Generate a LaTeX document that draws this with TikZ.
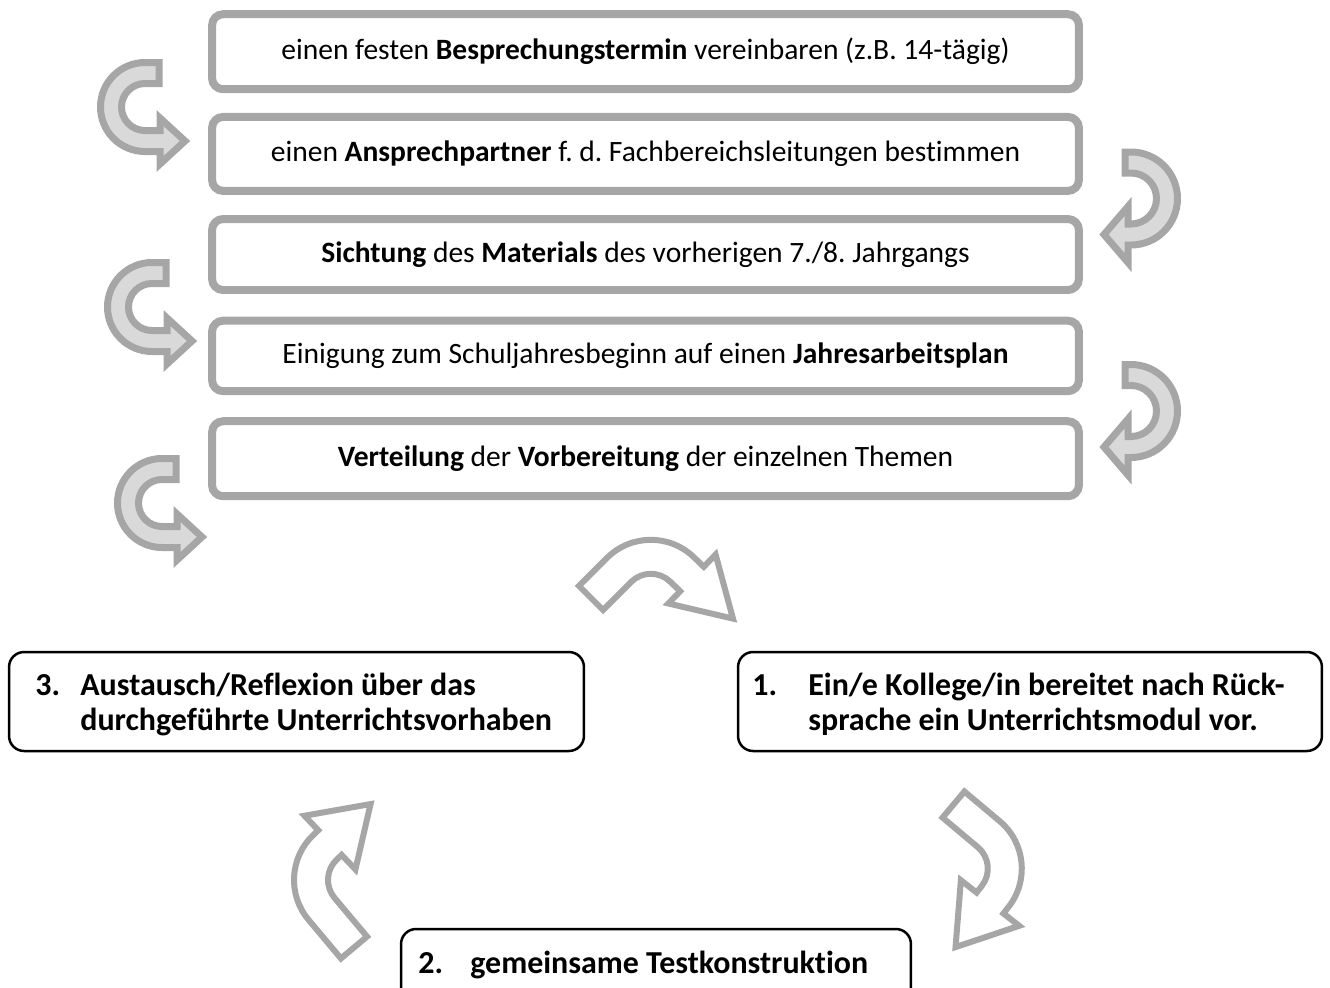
\documentclass[tikz,border=0pt]{standalone}
\usepackage{fontspec}
\setmainfont{Carlito}[Ligatures=NoCommon]
\usetikzlibrary{calc,positioning}
\definecolor{arrowgray}{HTML}{A6A6A6}
\definecolor{arrowfill}{HTML}{D9D9D9}
\frenchspacing

% bent block arrow: #1 style, #2 centre of the bend, #3 radius/half band/half head/head length/start angle/end angle/tail/straight end
\newcommand{\bentarrow}[3]{%
  \foreach \arcr/\bw/\hw/\hl/\sa/\ea/\tin/\tout in {#3}{
    \pgfmathsetmacro{\dir}{(\ea>\sa)?1:-1}
    \pgfmathsetmacro{\hback}{\sa+90*\dir+180}
    \pgfmathsetmacro{\hend}{\ea+90*\dir}
    \pgfmathsetmacro{\rout}{\arcr+\bw}
    \pgfmathsetmacro{\rin}{\arcr-\bw}
    \pgfmathsetmacro{\rhout}{\arcr+\hw}
    \pgfmathsetmacro{\rhin}{\arcr-\hw}
    \pgfmathsetmacro{\tip}{\tout+\hl}
    \draw[#1,shift={(#2)}] ($(\sa:\rout)+(\hback:\tin)$) -- (\sa:\rout)
      arc[start angle=\sa, end angle=\ea, radius=\rout]
      -- ($(\ea:\rout)+(\hend:\tout)$) -- ($(\ea:\rhout)+(\hend:\tout)$)
      -- ($(\ea:\arcr)+(\hend:\tip)$)
      -- ($(\ea:\rhin)+(\hend:\tout)$) -- ($(\ea:\rin)+(\hend:\tout)$)
      -- (\ea:\rin) arc[start angle=\ea, end angle=\sa, radius=\rin]
      -- ($(\sa:\rin)+(\hback:\tin)$) -- cycle;
  }}

\begin{document}
\begin{tikzpicture}[x=0.02cm,y=-0.02cm,
  planbox/.style={draw=arrowgray, line width=0.16cm, rounded corners=0.22cm,
    minimum width=17.34cm, inner sep=0pt, font=\fontsize{16.8}{19}\selectfont},
  stepbox/.style={draw=black, line width=0.05cm, rounded corners=0.3cm, inner sep=0pt},
  steptext/.style={anchor=west, inner sep=0pt, font=\fontsize{18.2}{19.9}\selectfont\bfseries},
  grayarrow/.style={draw=arrowgray, fill=arrowfill, line width=0.14cm, line join=miter},
  openarrow/.style={draw=arrowgray, fill=white, line width=0.12cm, line join=miter}]
\useasboundingbox (0,0) rectangle (1330,988);
\clip (0,0) rectangle (1330,988);

% the five agreements
\node[planbox, minimum height=1.5cm] (p1) at (645.5,51.7)
  {einen festen \textbf{Besprechungstermin} vereinbaren (z.B. 14-tägig)};
\node[planbox, minimum height=1.48cm] (p2) at (645.5,153.9)
  {einen \textbf{Ansprechpartner} f. d. Fachbereichsleitungen bestimmen};
\node[planbox, minimum height=1.42cm] (p3) at (645.5,254.5)
  {\textbf{Sichtung} des \textbf{Materials} des vorherigen 7./8. Jahrgangs};
\node[planbox, minimum height=1.41cm] (p4) at (645.5,355.9)
  {Einigung zum Schuljahresbeginn auf einen \textbf{Jahresarbeitsplan}};
\node[planbox, minimum height=1.5cm] (p5) at (645.5,458.7)
  {\textbf{Verteilung} der \textbf{Vorbereitung} der einzelnen Themen};

% arrows beside the boxes
\bentarrow{grayarrow}{145,107}{34/10.5/23/25/270/90/14/15}
\bentarrow{grayarrow}{152,307}{34/10.5/23/25/270/90/14/15}
\bentarrow{grayarrow}{162,503}{34/10.5/23/25/270/90/14/15}
\bentarrow{grayarrow}{1131,198.5}{36/10.5/28/24/270/450/6/3}
\bentarrow{grayarrow}{1131,411}{36/10.5/28/24/270/450/6/3}

% the cycle
\node[stepbox, minimum width=11.5cm, minimum height=1.98cm] (s3) at (296.5,701.5) {};
\node[stepbox, minimum width=11.68cm, minimum height=1.98cm] (s1) at (1030,701.5) {};
\node[stepbox, minimum width=10.2cm, minimum height=1.82cm] (s2) at (656,974.5) {};

\node[steptext] (t3) at (35,706) {\begin{tabular}{@{}p{0.9cm}@{}l@{}}
  3. & Austausch/Reflexion über das\\ & durchgeführte Unterrichtsvorhaben\end{tabular}};
\node[steptext] (t1) at (752,706) {\begin{tabular}{@{}p{1.12cm}@{}l@{}}
  1. & Ein/e Kollege/in bereitet nach Rück-\\ & sprache ein Unterrichtsmodul vor.\end{tabular}};
\node[steptext] (t2) at (418,966) {\begin{tabular}{@{}p{1.04cm}@{}l@{}}
  2. & gemeinsame Testkonstruktion\end{tabular}};

\bentarrow{openarrow}{650.8,601.8}{45/17/34/57/-135/-46/39.6/13.8}
\bentarrow{openarrow}{959.8,868.6}{45/17/37/56/-50/38/46/8.5}
\bentarrow{openarrow}{356,879.9}{45/17/37/56/140/226.5/50.5/6.8}
\end{tikzpicture}
\end{document}
